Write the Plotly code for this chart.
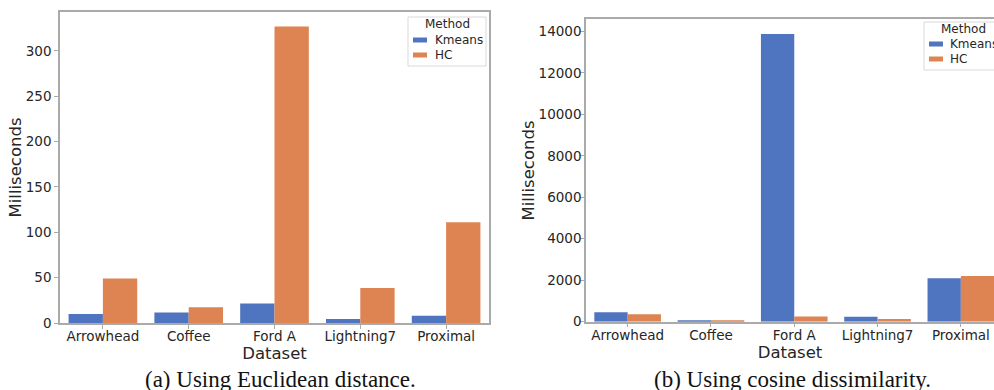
import plotly.graph_objects as go

# ---------------- data ----------------
datasets = ["Arrowhead", "Coffee", "Ford A", "Lightning7", "Proximal"]
methods = ["Kmeans", "HC"]
euclid_kmeans = [10, 11.5, 21.5, 4.5, 8]
euclid_hc = [49, 17.5, 327, 38.5, 111]
cosine_kmeans = [460, 35, 13870, 240, 2090]
cosine_hc = [365, 50, 250, 130, 2200]
captions = ["(a) Using Euclidean distance.", "(b) Using cosine dissimilarity."]

# ---------------- style ----------------
W, H = 994, 390
BLUE = "#4f74c0"
ORANGE = "#dd8452"
colors = [BLUE, ORANGE]
AXC = "#aaaaaa"
TXT = "#262626"
SANS = "DejaVu Sans"
SERIF = "Liberation Serif"


def px(x):
    return x / W


def py(y):
    return 1 - y / H


fig = go.Figure()

series = [
    ("x", "y", [euclid_kmeans, euclid_hc]),
    ("x2", "y2", [cosine_kmeans, cosine_hc]),
]
for xa, ya, vals in series:
    for name, v, c in zip(methods, vals, colors):
        fig.add_trace(go.Bar(
            x=datasets, y=v, name=name, xaxis=xa, yaxis=ya,
            marker=dict(color=c, line=dict(width=0)),
            showlegend=False,
        ))

axis_common = dict(
    showline=True, linecolor=AXC, linewidth=1.5,
    ticks="outside", ticklen=4, tickwidth=1, tickcolor=AXC,
    showgrid=False, zeroline=False,
    tickfont=dict(family=SANS, size=13.5, color=TXT),
    automargin=True,
)
title_font = dict(family=SANS, size=16.5, color=TXT)

fig.update_layout(
    width=W, height=H,
    margin=dict(l=0, r=0, t=0, b=0, autoexpand=False),
    template="none",
    paper_bgcolor="white", plot_bgcolor="white",
    barmode="group", bargap=0.2, bargroupgap=0,
    showlegend=False,
    xaxis=dict(axis_common, domain=[px(60), px(489)], range=[-0.5, 4.5],
               anchor="y", mirror=True, ticklabelstandoff=-4,
               title=dict(text="Dataset", standoff=0, font=title_font)),
    yaxis=dict(axis_common, domain=[py(323), py(12)], range=[0, 343],
               anchor="x", mirror=True, dtick=50, tickformat="d",
               title=dict(text="Milliseconds", standoff=0, font=title_font)),
    xaxis2=dict(axis_common, domain=[px(586), 1.0], range=[-0.5, 4.398],
                anchor="y2", mirror=True, ticklabelstandoff=-4,
                title=dict(text="Dataset", standoff=0, font=title_font)),
    yaxis2=dict(axis_common, domain=[py(321.7), py(19.3)], range=[0, 14580],
                anchor="x2", mirror=False, dtick=2000, tickformat="d",
                ticklabelstandoff=-4,
                title=dict(text="Milliseconds", standoff=0, font=title_font)),
)

shapes = []
annotations = []

# captions
for cap, cx in zip(captions, [280, 792]):
    annotations.append(dict(
        text=cap, xref="paper", yref="paper", x=px(cx), y=py(379),
        xanchor="center", yanchor="middle", showarrow=False,
        font=dict(family=SERIF, size=23, color="#111111"),
    ))

# manual legends (matplotlib-like: title + thin colour patches)
legends = [
    dict(box=(408, 17, 486, 66), title=(447, 24), sym_x=(413, 427),
         rows=[40, 55], text_x=433),
    dict(box=(924, 22, 1000, 70), title=(963, 29), sym_x=(929, 943),
         rows=[44, 59], text_x=948),
]
for lg in legends:
    x0, y0, x1, y1 = lg["box"]
    shapes.append(dict(type="rect", xref="paper", yref="paper",
                       x0=px(x0), x1=px(x1), y0=py(y1), y1=py(y0),
                       line=dict(color="#d9d9d9", width=1),
                       fillcolor="rgba(255,255,255,0.85)", layer="above"))
    annotations.append(dict(
        text="Method", xref="paper", yref="paper",
        x=px(lg["title"][0]), y=py(lg["title"][1]),
        xanchor="center", yanchor="middle", showarrow=False,
        font=dict(family=SANS, size=12, color=TXT)))
    for name, c, ry in zip(methods, colors, lg["rows"]):
        shapes.append(dict(type="rect", xref="paper", yref="paper",
                           x0=px(lg["sym_x"][0]), x1=px(lg["sym_x"][1]),
                           y0=py(ry + 2.5), y1=py(ry - 2.5),
                           line=dict(width=0), fillcolor=c, layer="above"))
        annotations.append(dict(
            text=name, xref="paper", yref="paper",
            x=px(lg["text_x"]), y=py(ry),
            xanchor="left", yanchor="middle", showarrow=False,
            font=dict(family=SANS, size=12, color=TXT)))

fig.update_layout(shapes=shapes, annotations=annotations)

fig.write_html(
    "out.html",
    config={"displayModeBar": False},
    post_script="document.body.style.margin='0';"
                "document.body.style.overflow='hidden';",
)
